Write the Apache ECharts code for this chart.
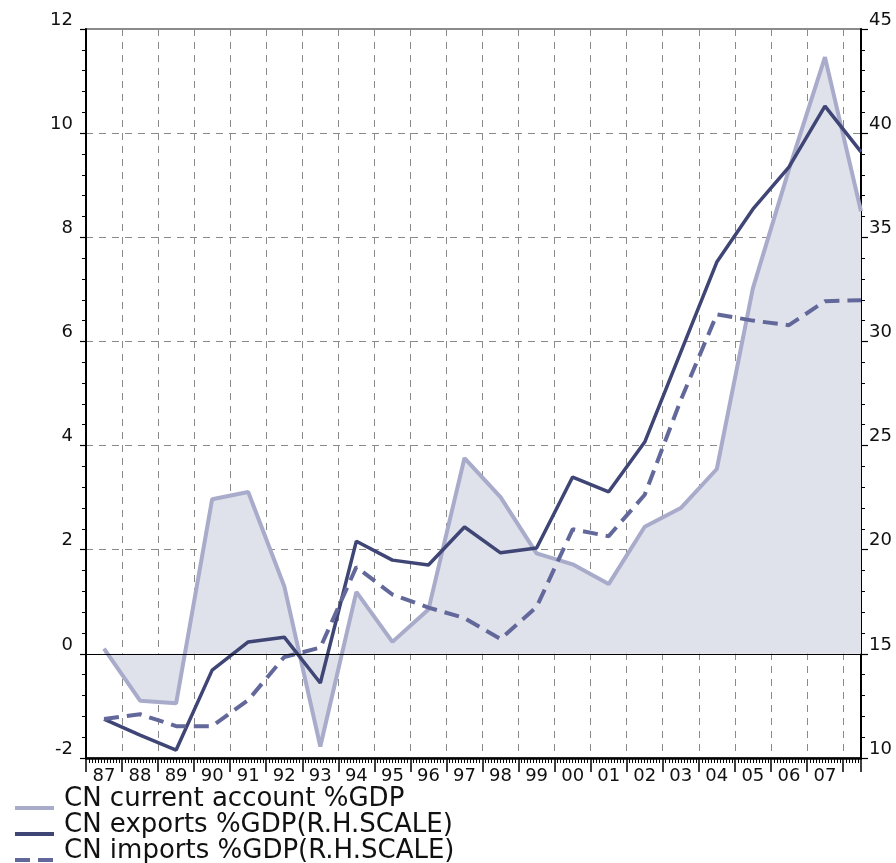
<!DOCTYPE html>
<html>
<head>
<meta charset="utf-8">
<script src="https://cdn.jsdelivr.net/npm/echarts@6/dist/echarts.min.js"></script>
<style>
  html, body { margin: 0; padding: 0; background: #fff; }
  #chart { width: 896px; height: 863px; }
</style>
</head>
<body>
<div id="chart"></div>
<script>
// years 1987..2008, only 87..07 get a label
const years = ['87','88','89','90','91','92','93','94','95','96','97','98','99','00','01','02','03','04','05','06','07','08'];
const xLabels = years.slice(0, 21);

// left scale, % of GDP
const currentAccount = [0.1, -0.9, -0.95, 2.97, 3.11, 1.3, -1.78, 1.19, 0.23, 0.85, 3.76, 3.01, 1.93, 1.72, 1.34, 2.44, 2.8, 3.55, 7.02, 9.3, 11.46, 8.5];
// right scale, % of GDP
const exportsGdp = [11.87, 11.1, 10.38, 14.22, 15.57, 15.8, 13.6, 20.41, 19.5, 19.27, 21.09, 19.85, 20.08, 23.49, 22.78, 25.17, 29.49, 33.81, 36.35, 38.37, 41.3, 39.1];
const importsGdp = [11.87, 12.1, 11.53, 11.53, 12.78, 14.85, 15.3, 19.17, 17.85, 17.22, 16.72, 15.71, 17.25, 20.98, 20.65, 22.64, 27.18, 31.3, 31.0, 30.78, 31.93, 31.98];

const leftTicks = [-2, 12, 2];
const rightTicks = [10, 45, 5];

const names = ['CN current account %GDP', 'CN exports %GDP(R.H.SCALE)', 'CN imports %GDP(R.H.SCALE)'];

const toPairs = arr => arr.map((v, i) => [i, v]);
const font = 'DejaVu Sans';
const gridDash = { color: '#8a8a8a', width: 1, type: [7, 6] };

const chart = echarts.init(document.getElementById('chart'), null, { renderer: 'canvas' });
chart.setOption({
    animation: false,
    backgroundColor: '#fff',
    grid: {
        left: 86, right: 35, top: 29, bottom: 105,
        show: true, borderColor: '#666', borderWidth: 1.5, backgroundColor: 'transparent'
    },
    legend: {
        orient: 'vertical',
        left: 13,
        top: 786,
        height: 200,
        padding: 0,
        itemWidth: 39,
        itemHeight: 14,
        itemGap: -18,
        itemStyle: { opacity: 0 },
        lineStyle: { width: 4 },
        formatter: name => '{t|' + name + '}',
        textStyle: {
            rich: {
                t: { fontFamily: font, fontSize: 26, color: '#111', lineHeight: 25, padding: [0, 0, 18, 5] }
            }
        },
        data: names
    },
    xAxis: {
        type: 'value',
        min: -0.5,
        max: 21,
        interval: 1,
        axisLine: { show: true, onZero: false, lineStyle: { color: '#000', width: 2.5 } },
        axisTick: { show: true, length: 14, lineStyle: { color: '#000', width: 1.5 } },
        minorTick: { show: true, splitNumber: 12, length: 5, lineStyle: { color: '#000', width: 1 } },
        axisLabel: {
            customValues: xLabels.map((_, i) => i),
            formatter: v => xLabels[Math.round(v)] || '',
            fontFamily: font, fontSize: 18, color: '#111', margin: 9
        },
        splitLine: { show: true, lineStyle: gridDash }
    },
    yAxis: [
        {
            type: 'value',
            min: leftTicks[0], max: leftTicks[1], interval: leftTicks[2],
            axisLine: { show: true, onZero: false, lineStyle: { color: '#000', width: 2 } },
            axisTick: { show: true, length: 6, lineStyle: { color: '#000', width: 1.2 } },
            minorTick: { show: true, splitNumber: 5, length: 4, lineStyle: { color: '#000', width: 1 } },
            axisLabel: { fontFamily: font, fontSize: 18, color: '#111', margin: 13, verticalAlign: 'bottom', lineHeight: 18 },
            splitLine: { show: true, lineStyle: gridDash }
        },
        {
            type: 'value',
            position: 'right',
            min: rightTicks[0], max: rightTicks[1], interval: rightTicks[2],
            axisLine: { show: true, onZero: false, lineStyle: { color: '#000', width: 2 } },
            axisTick: { show: true, length: 7, lineStyle: { color: '#000', width: 1.2 } },
            minorTick: { show: true, splitNumber: 5, length: 4, lineStyle: { color: '#000', width: 1 } },
            axisLabel: { fontFamily: font, fontSize: 18, color: '#111', margin: 8, verticalAlign: 'bottom', lineHeight: 18 },
            splitLine: { show: false }
        }
    ],
    series: [
        {
            name: names[0],
            type: 'line',
            yAxisIndex: 0,
            data: toPairs(currentAccount),
            symbol: 'none',
            color: '#a9abca',
            lineStyle: { color: '#a9abca', width: 4 },
            areaStyle: { color: '#dfe1eb', opacity: 1 },
            markLine: {
                silent: true,
                symbol: 'none',
                label: { show: false },
                lineStyle: { color: '#000', width: 1.2, type: 'solid' },
                data: [{ yAxis: 0 }]
            },
            z: 2
        },
        {
            name: names[1],
            type: 'line',
            yAxisIndex: 1,
            data: toPairs(exportsGdp),
            symbol: 'none',
            color: '#3f4574',
            lineStyle: { color: '#3f4574', width: 3.5 },
            z: 3
        },
        {
            name: names[2],
            type: 'line',
            yAxisIndex: 1,
            data: toPairs(importsGdp),
            symbol: 'none',
            color: '#63689a',
            lineStyle: { color: '#63689a', width: 4, type: [15, 8] },
            z: 4
        }
    ]
});
</script>
</body>
</html>
